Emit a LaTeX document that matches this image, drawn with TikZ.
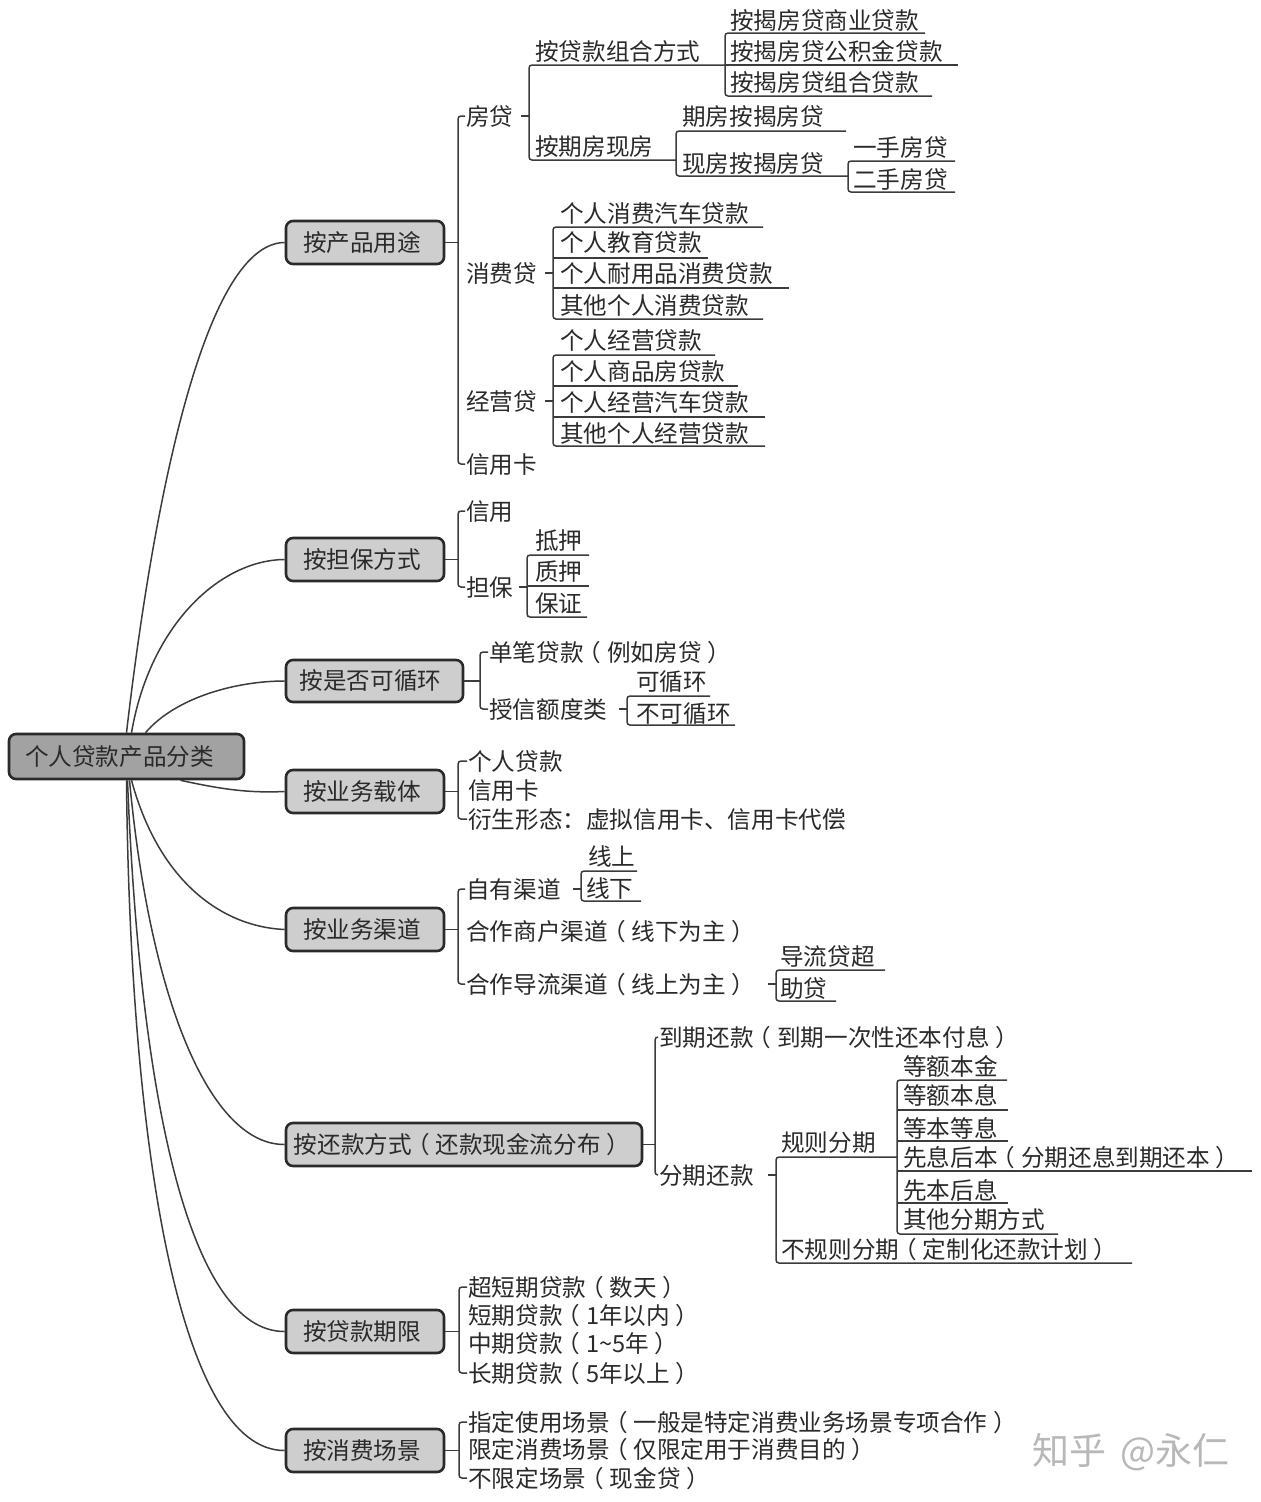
\documentclass[tikz,border=0pt]{standalone}
\usepackage{fontspec}
\setmainfont{Noto Sans CJK SC}
\definecolor{ink}{HTML}{2A2A2A}
\definecolor{wire}{HTML}{3C3C3C}
\definecolor{rootfill}{HTML}{A2A2A2}
\definecolor{hubfill}{HTML}{CECECE}
% full-width brackets set in the middle of their cell, as in the reference
\newcommand{\lp}{\kern-0.24em（\kern0.24em}
\newcommand{\rp}{\kern0.24em）\kern-0.24em}
\tikzset{
  conn/.style={draw=wire,line width=1.5pt},
  rc/.style={rounded corners=3pt},
  lbl/.style={anchor=west,xshift=-1pt,inner sep=0pt,text height=18pt,text depth=0pt,text=ink,font=\fontsize{23.6pt}{28pt}\selectfont},
  boxbase/.style={draw=ink,line width=2.6pt,rounded corners=7pt,inner sep=0pt,text=ink,font=\fontsize{23.6pt}{28pt}\selectfont},
  hubbox/.style={boxbase,fill=hubfill},
  rootbox/.style={boxbase,fill=rootfill},
}
% underlined leaf: name, line start, line end, line y, text x, text centre y, text
\newcommand{\lf}[7]{%
  \node[lbl] (#1) at (#5,#6) {#7};
  \coordinate (#1-s) at (#2,#4);
  \coordinate (#1-e) at (#3,#4);
}
% plain text: name, x, y, text
\newcommand{\tx}[4]{\node[lbl] (#1) at (#2,#3) {#4};}
% rounded box: style, name, x0, x1, y0, y1, text, right kern
\newcommand{\hb}[8]{%
  \pgfmathsetmacro{\bw}{#4-#3}\pgfmathsetmacro{\bh}{#6-#5}%
  \node[#1,minimum width=\bw pt,minimum height=\bh pt] (#2) at ({(#3+#4)/2},{(#5+#6)/2}) {\raisebox{-1.5pt}{#7}\kern#8pt};
}
% tree of underlines: first, last, middles
\newcommand{\tree}[3]{%
  \draw[conn,rc] (#1-e) -- (#1-s) -- (#2-s) -- (#2-e);
  \foreach \m in {#3} {\draw[conn] (\m-s) -- (\m-e);}
}
% bracket joining plain text nodes: top, bottom, distance
\newcommand{\brk}[3]{%
  \draw[conn,rc] ([xshift=-1pt]#1.west) -- ++(-#3,0) |- ([xshift=-1pt]#2.west);
}
% tick from a text to a spine
\newcommand{\stub}[2]{\draw[conn] (#1.east -| #2-s) -- ++(-8,0);}
\begin{document}
\begin{tikzpicture}[x=1pt,y=-1pt]
\fill[white] (0,0) rectangle (1261,1502);
\useasboundingbox (0,0) rectangle (1261,1502);

% ---- boxes
\hb{rootbox}{root}{9}{244}{734}{779}{个人贷款产品分类}{14}
\hb{hubbox}{ha}{286}{444}{221}{264}{按产品用途}{6}
\hb{hubbox}{hb}{286}{444}{538}{581}{按担保方式}{6}
\hb{hubbox}{hc}{286}{463}{660}{702}{按是否可循环}{8}
\hb{hubbox}{hd}{286}{444}{770}{813}{按业务载体}{6}
\hb{hubbox}{he}{286}{444}{908}{951}{按业务渠道}{6}
\hb{hubbox}{hf}{286}{642}{1123}{1166}{按还款方式\lp 还款现金流分布\rp}{10}
\hb{hubbox}{hg}{286}{444}{1310}{1353}{按贷款期限}{6}
\hb{hubbox}{hh}{286}{444}{1429}{1472}{按消费场景}{6}

% ---- root curves
\draw[conn] ([xshift=0pt]root.north) .. controls (150,530) and (200,243) .. (ha.west);
\draw[conn] ([xshift=5pt]root.north) .. controls (150,625) and (220,560) .. (hb.west);
\draw[conn] ([xshift=19pt]root.north) .. controls (175,698) and (235,681) .. (hc.west);
\draw[conn] ([xshift=54pt]root.south) .. controls (225,790) and (250,793) .. (hd.west);
\draw[conn] ([xshift=5pt]root.south) .. controls (160,885) and (225,927) .. (he.west);
\draw[conn] ([xshift=3pt]root.south) .. controls (150,1000) and (210,1145) .. (hf.west);
\draw[conn] ([xshift=1pt]root.south) .. controls (140,1100) and (190,1332) .. (hg.west);
\draw[conn] ([xshift=0pt]root.south) .. controls (130,1150) and (180,1451) .. (hh.west);

% ---- A: 按产品用途
\tx{fd}{467}{116}{房贷}
\tx{xfd}{467}{273}{消费贷}
\tx{jyd}{467}{401}{经营贷}
\tx{xyk}{467}{464}{信用卡}
\draw[conn] (ha.east) -- ++(14,0);
\brk{fd}{xyk}{7}

\lf{zh}{529}{725}{65}{536}{51}{按贷款组合方式}
\lf{qf}{529}{676}{160}{536}{146}{按期房现房}
\tree{zh}{qf}{}
\stub{fd}{zh}

\lf{a1}{725}{925}{33}{731}{20}{按揭房贷商业贷款}
\lf{a2}{725}{958}{65}{731}{51}{按揭房贷公积金贷款}
\lf{a3}{725}{932}{96}{731}{82}{按揭房贷组合贷款}
\tree{a1}{a3}{a2}

\lf{q1}{676}{846}{131}{683}{116}{期房按揭房贷}
\lf{q2}{676}{848}{176}{683}{163}{现房按揭房贷}
\tree{q1}{q2}{}
\lf{s1}{848}{955}{161}{854}{147}{一手房贷}
\lf{s2}{848}{955}{192}{854}{179}{二手房贷}
\tree{s1}{s2}{}

\lf{b1}{553}{763}{227}{561}{213}{个人消费汽车贷款}
\lf{b2}{553}{708}{258}{561}{242}{个人教育贷款}
\lf{b3}{553}{789}{288}{561}{273}{个人耐用品消费贷款}
\lf{b4}{553}{763}{319}{561}{305}{其他个人消费贷款}
\tree{b1}{b4}{b2,b3}
\stub{xfd}{b1}

\lf{c1}{553}{715}{355}{561}{340}{个人经营贷款}
\lf{c2}{553}{738}{386}{561}{371}{个人商品房贷款}
\lf{c3}{553}{765}{417}{561}{402}{个人经营汽车贷款}
\lf{c4}{553}{765}{446}{561}{433}{其他个人经营贷款}
\tree{c1}{c4}{c2,c3}
\stub{jyd}{c1}

% ---- B: 按担保方式
\tx{xy}{467}{511}{信用}
\tx{db}{467}{587}{担保}
\draw[conn] (hb.east) -- ++(14,0);
\brk{xy}{db}{7}
\lf{d1}{527}{589}{555}{536}{540}{抵押}
\lf{d2}{527}{589}{586}{536}{571}{质押}
\lf{d3}{527}{587}{617}{536}{603}{保证}
\tree{d1}{d3}{d2}
\stub{db}{d1}

% ---- C: 按是否可循环
\tx{dbd}{490}{652}{单笔贷款\lp 例如房贷\rp}
\tx{sx}{490}{709}{授信额度类}
\draw[conn] (hc.east) -- ++(17,0);
\brk{dbd}{sx}{8}
\lf{e1}{627}{710}{696}{637}{681}{可循环}
\lf{e2}{627}{735}{725}{637}{713}{不可循环}
\tree{e1}{e2}{}
\stub{sx}{e1}

% ---- D: 按业务载体
\tx{f1}{469}{761}{个人贷款}
\tx{f2}{469}{790}{信用卡}
\tx{f3}{469}{819}{衍生形态：虚拟信用卡、信用卡代偿}
\draw[conn] (hd.east) -- ++(14,0);
\brk{f1}{f3}{9}

% ---- E: 按业务渠道
\tx{g1}{467}{889}{自有渠道}
\tx{g2}{467}{931}{合作商户渠道\lp 线下为主\rp}
\tx{g3}{467}{984}{合作导流渠道\lp 线上为主\rp}
\draw[conn] (he.east) -- ++(14,0);
\brk{g1}{g3}{7}
\lf{i1}{581}{637}{871}{589}{856}{线上}
\lf{i2}{581}{641}{901}{587}{888}{线下}
\tree{i1}{i2}{}
\stub{g1}{i1}
\lf{j1}{776}{885}{970}{781}{956}{导流贷超}
\lf{j2}{776}{836}{1001}{781}{988}{助贷}
\tree{j1}{j2}{}
\stub{g3}{j1}

% ---- F: 按还款方式
\tx{k1}{660}{1037}{到期还款\lp 到期一次性还本付息\rp}
\tx{k2}{660}{1175}{分期还款}
\draw[conn] (hf.east) -- ++(13,0);
\brk{k1}{k2}{3}
\lf{l1}{776}{897}{1157}{782}{1142}{规则分期}
\lf{l2}{776}{1132}{1263}{782}{1249}{不规则分期\lp 定制化还款计划\rp}
\tree{l1}{l2}{}
\stub{k2}{l1}
\lf{m1}{897}{1007}{1080}{904}{1066}{等额本金}
\lf{m2}{897}{1008}{1110}{904}{1095}{等额本息}
\lf{m3}{897}{1008}{1141}{904}{1128}{等本等息}
\lf{m4}{897}{1252}{1171}{904}{1157}{先息后本\lp 分期还息到期还本\rp}
\lf{m5}{897}{1008}{1203}{904}{1190}{先本后息}
\lf{m6}{897}{1058}{1234}{904}{1219}{其他分期方式}
\tree{m1}{m6}{m2,m3,m4,m5}

% ---- G: 按贷款期限
\tx{n1}{469}{1287}{超短期贷款\lp 数天\rp}
\tx{n2}{469}{1315}{短期贷款\lp 1年以内\rp}
\tx{n3}{469}{1343}{中期贷款\lp 1\char`~5年\rp}
\tx{n4}{469}{1373}{长期贷款\lp 5年以上\rp}
\draw[conn] (hg.east) -- ++(15,0);
\brk{n1}{n4}{8}

% ---- H: 按消费场景
\tx{o1}{469}{1422}{指定使用场景\lp 一般是特定消费业务场景专项合作\rp}
\tx{o2}{469}{1449}{限定消费场景\lp 仅限定用于消费目的\rp}
\tx{o3}{469}{1478}{不限定场景\lp 现金贷\rp}
\draw[conn] (hh.east) -- ++(15,0);
\brk{o1}{o3}{8}

% ---- watermark
\node[anchor=west,inner sep=0pt,text=black!28,font=\fontsize{37pt}{42pt}\selectfont] (wm) at (1032,1452) {知乎\hspace{6pt} @永仁};
\end{tikzpicture}
\end{document}
